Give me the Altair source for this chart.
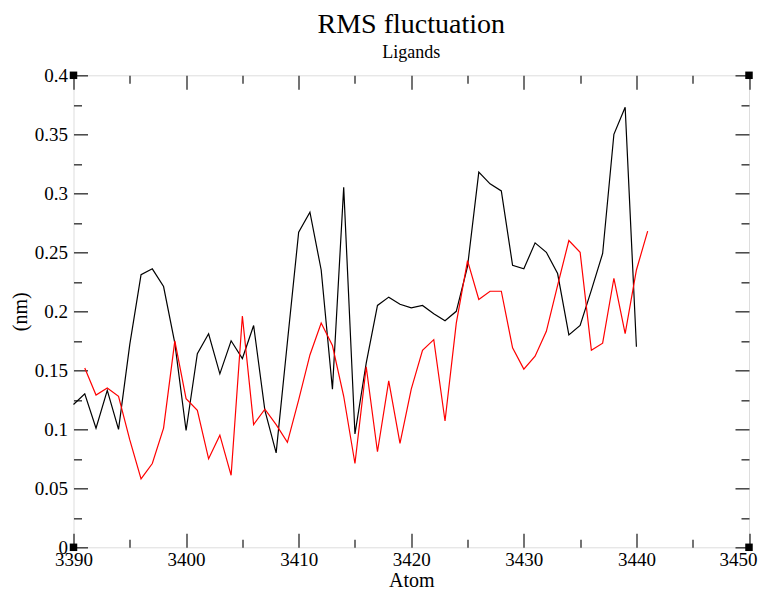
import altair as alt
import pandas as pd

FONT = "Liberation Serif"
FRAME = "#444444"

X_DOMAIN = [3390, 3450]
Y_DOMAIN = [0, 0.4]
X_MAJOR = [3390, 3400, 3410, 3420, 3430, 3440, 3450]
X_MINOR = [3395, 3405, 3415, 3425, 3435, 3445]
Y_MAJOR = [0, 0.05, 0.1, 0.15, 0.2, 0.25, 0.3, 0.35, 0.4]
Y_MINOR = [0.025, 0.075, 0.125, 0.175, 0.225, 0.275, 0.325, 0.375]

black_atoms = list(range(3390, 3441))
black_rmsf = [0.121, 0.130, 0.101, 0.133, 0.100, 0.172, 0.231, 0.236, 0.221, 0.173,
              0.099, 0.164, 0.181, 0.147, 0.175, 0.160, 0.188, 0.116, 0.080, 0.174,
              0.267, 0.284, 0.235, 0.134, 0.305, 0.096, 0.156, 0.205, 0.212, 0.206,
              0.203, 0.205, 0.198, 0.192, 0.200, 0.238, 0.318, 0.308, 0.302, 0.239,
              0.236, 0.258, 0.250, 0.232, 0.180, 0.188, 0.218, 0.249, 0.350, 0.373,
              0.170]

red_atoms = list(range(3391, 3442))
red_rmsf = [0.152, 0.129, 0.135, 0.128, 0.091, 0.058, 0.071, 0.101, 0.175, 0.126,
            0.116, 0.075, 0.095, 0.061, 0.196, 0.104, 0.117, 0.104, 0.089, 0.125,
            0.163, 0.190, 0.171, 0.128, 0.071, 0.153, 0.081, 0.141, 0.088, 0.134,
            0.167, 0.176, 0.107, 0.190, 0.243, 0.210, 0.217, 0.217, 0.169, 0.151,
            0.162, 0.183, 0.222, 0.260, 0.250, 0.167, 0.173, 0.228, 0.181, 0.235,
            0.268]

SERIES = ["black", "red"]
COLORS = ["#000000", "#ff0000"]

df = pd.concat([
    pd.DataFrame({"atom": black_atoms, "rmsf": black_rmsf, "series": "black"}),
    pd.DataFrame({"atom": red_atoms, "rmsf": red_rmsf, "series": "red"}),
])
corners = pd.DataFrame([{"atom": xv, "rmsf": yv} for xv in X_DOMAIN for yv in Y_DOMAIN])

xs = alt.Scale(domain=X_DOMAIN, nice=False, zero=False)
ys = alt.Scale(domain=Y_DOMAIN, nice=False)

label_style = dict(labelFont=FONT, labelFontSize=19, labelColor="black",
                   titleFont=FONT, titleFontSize=20, titleFontWeight="normal",
                   titleColor="black", grid=False, domain=False, ticks=False,
                   labelFlush=False, labelOverlap=False)

x_lab = alt.Axis(orient="bottom", values=X_MAJOR, format="d", labelPadding=3,
                 labelOffset={"condition": {"test": f"datum.value >= {X_DOMAIN[1]}", "value": -11},
                              "value": 0},
                 title="Atom", titlePadding=1, **label_style)
y_lab = alt.Axis(orient="left", values=Y_MAJOR, format="~g", labelPadding=6,
                 title="(nm)", titlePadding=4, **label_style)


def tick_axis(orient, values, size):
    return alt.Axis(orient=orient, values=values, offset=-size, tickSize=size,
                    labels=False, domain=False, grid=False, title=None,
                    tickColor=FRAME, tickWidth=1.5)


lines = alt.Chart(df).mark_line(strokeWidth=1.2).encode(
    x=alt.X("atom:Q", scale=xs, axis=x_lab),
    y=alt.Y("rmsf:Q", scale=ys, axis=y_lab),
    color=alt.Color("series:N", scale=alt.Scale(domain=SERIES, range=COLORS), legend=None),
    order="atom:Q",
)


def tick_layer(xo, xv, yo, yv, size):
    return alt.Chart(corners).mark_point(opacity=0).encode(
        x=alt.X("atom:Q", scale=xs, axis=tick_axis(xo, xv, size)),
        y=alt.Y("rmsf:Q", scale=ys, axis=tick_axis(yo, yv, size)),
    )


t1 = tick_layer("bottom", X_MAJOR, "left", Y_MAJOR, 14)
t2 = tick_layer("bottom", X_MINOR, "left", Y_MINOR, 8)
t3 = tick_layer("top", X_MAJOR, "right", Y_MAJOR, 14)
t4 = tick_layer("top", X_MINOR, "right", Y_MINOR, 8)

squares = alt.Chart(corners).mark_square(size=56, color="black", opacity=1, filled=True).encode(
    x=alt.X("atom:Q", scale=xs, axis=None),
    y=alt.Y("rmsf:Q", scale=ys, axis=None),
)

chart = alt.layer(lines, t1, t2, t3, t4, squares).resolve_axis(
    x="independent", y="independent"
).properties(
    width=675.5,
    height=472,
    autosize=alt.AutoSizeParams(type="none"),
    padding={"left": 65.5, "top": 67.3, "right": 9, "bottom": 42.7},
    title=alt.TitleParams(
        text="RMS fluctuation", subtitle="Ligands", font=FONT, fontSize=28,
        fontWeight="normal", color="black", subtitleFont=FONT, subtitleFontSize=18,
        subtitleColor="black", anchor="middle", offset=4, subtitlePadding=5,
    ),
).configure_view(stroke=FRAME, strokeWidth=1.5).configure(background="white")

chart.save("out.html", embed_options={"renderer": "svg", "actions": False})
